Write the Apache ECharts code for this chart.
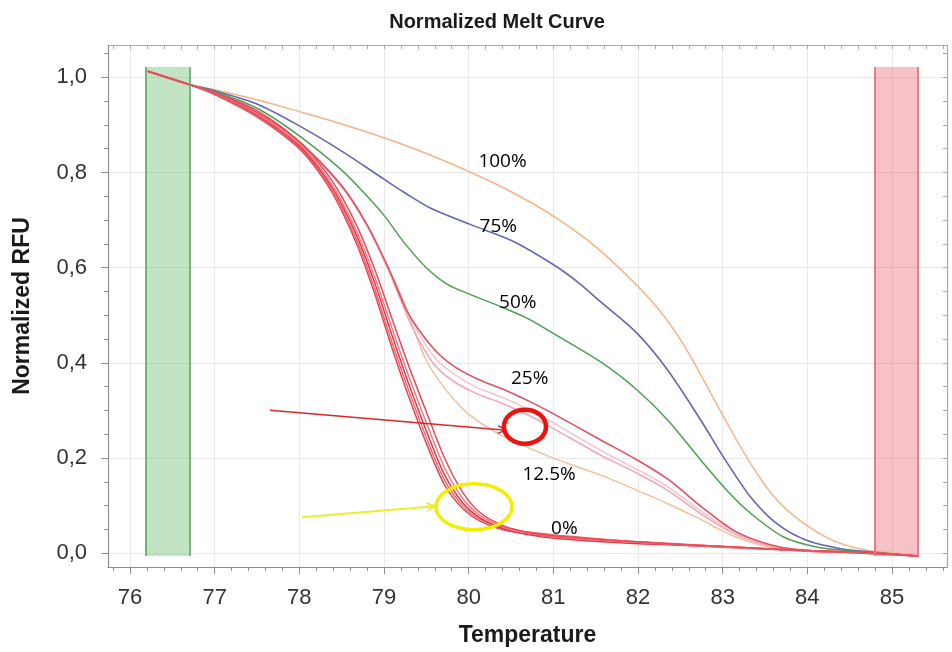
<!DOCTYPE html>
<html>
<head>
<meta charset="utf-8">
<script src="https://cdn.jsdelivr.net/npm/echarts@6/dist/echarts.min.js"></script>
<style>
  html, body { margin: 0; padding: 0; background: #ffffff; }
  #chart { width: 952px; height: 652px; }
</style>
</head>
<body>
<div id="chart"></div>
<script>
// ---- Melt curve data: [temperature (°C), normalized RFU] ----
const curve100 = [[76.21,1.013],[76.70,0.985],[77.0,0.974],[77.5,0.953],[78.0,0.928],[78.5,0.902],[79.0,0.873],[79.5,0.840],[80.03,0.800],[80.53,0.757],[81.03,0.705],[81.54,0.638],[82.04,0.553],[82.30,0.500],[82.54,0.438],[82.75,0.372],[83.01,0.287],[83.29,0.200],[83.60,0.120],[83.91,0.069],[84.30,0.027],[84.70,0.006],[85.0,0.001],[85.31,-0.006]];
const curve75 = [[76.21,1.013],[76.70,0.985],[77.0,0.972],[77.5,0.944],[78.0,0.898],[78.5,0.845],[79.0,0.786],[79.25,0.757],[79.54,0.726],[80.03,0.690],[80.53,0.655],[81.03,0.603],[81.30,0.568],[81.56,0.528],[81.99,0.462],[82.35,0.385],[82.74,0.280],[83.01,0.202],[83.33,0.118],[83.64,0.062],[83.99,0.027],[84.38,0.010],[84.80,0.002],[85.31,-0.006]];
const curve50 = [[76.21,1.013],[76.70,0.985],[77.0,0.970],[77.5,0.935],[78.0,0.877],[78.5,0.805],[78.75,0.760],[79.0,0.710],[79.25,0.650],[79.5,0.600],[79.75,0.565],[80.03,0.543],[80.38,0.518],[80.71,0.492],[80.97,0.465],[81.56,0.402],[81.99,0.343],[82.35,0.280],[82.74,0.196],[83.05,0.132],[83.33,0.084],[83.72,0.034],[84.11,0.013],[84.55,0.004],[85.31,-0.006]];
const curve25 = [[76.21,1.013],[76.70,0.985],[77.0,0.968],[77.5,0.930],[78.0,0.865],[78.5,0.772],[78.8,0.690],[79.05,0.600],[79.27,0.510],[79.45,0.460],[79.65,0.418],[79.85,0.390],[80.13,0.364],[80.44,0.342],[80.73,0.318],[80.97,0.296],[81.56,0.238],[81.99,0.196],[82.35,0.156],[82.74,0.099],[83.13,0.048],[83.52,0.020],[83.91,0.007],[84.55,0.001],[85.31,-0.006]];
const curve12a = [[76.21,1.013],[76.70,0.985],[77.0,0.967],[77.5,0.928],[78.0,0.863],[78.5,0.770],[78.8,0.688],[79.03,0.605],[79.27,0.500],[79.42,0.445],[79.60,0.395],[79.79,0.365],[80.06,0.338],[80.38,0.316],[80.73,0.288],[80.97,0.265],[81.56,0.206],[81.99,0.168],[82.35,0.132],[82.74,0.083],[83.13,0.042],[83.52,0.017],[83.95,0.005],[84.55,0.001],[85.31,-0.006]];
const curve12b = [[76.21,1.013],[76.70,0.985],[77.0,0.967],[77.5,0.929],[78.0,0.864],[78.5,0.771],[78.8,0.689],[79.04,0.603],[79.28,0.505],[79.45,0.450],[79.63,0.405],[79.84,0.375],[80.10,0.348],[80.42,0.326],[80.75,0.298],[80.98,0.276],[81.56,0.216],[81.99,0.176],[82.35,0.140],[82.74,0.089],[83.13,0.046],[83.52,0.019],[83.95,0.006],[84.55,0.001],[85.31,-0.006]];
const curve12c = [[76.21,1.013],[76.70,0.985],[77.0,0.967],[77.5,0.928],[78.0,0.864],[78.5,0.773],[78.8,0.690],[79.0,0.615],[79.17,0.555],[79.35,0.470],[79.50,0.405],[79.66,0.360],[79.83,0.322],[80.03,0.288],[80.38,0.248],[80.97,0.202],[81.56,0.164],[81.99,0.132],[82.35,0.104],[82.74,0.071],[83.13,0.036],[83.55,0.013],[84.05,0.004],[84.65,0.001],[85.31,-0.006]];
const curve0a = [[76.21,1.013],[76.70,0.985],[77.0,0.964],[77.5,0.917],[78.0,0.850],[78.3,0.783],[78.5,0.720],[78.7,0.640],[78.9,0.540],[79.1,0.428],[79.3,0.325],[79.52,0.222],[79.72,0.142],[79.93,0.094],[80.13,0.068],[80.43,0.048],[80.73,0.040],[81.04,0.034],[81.79,0.025],[82.55,0.018],[83.35,0.011],[84.05,0.005],[84.75,0.001],[85.31,-0.006]];
const curve0b = [[76.21,1.013],[76.70,0.985],[77.0,0.965],[77.5,0.919],[78.0,0.853],[78.3,0.787],[78.5,0.726],[78.7,0.648],[78.9,0.550],[79.1,0.440],[79.3,0.338],[79.52,0.234],[79.72,0.152],[79.93,0.100],[80.13,0.072],[80.43,0.052],[80.73,0.044],[81.04,0.038],[81.79,0.027],[82.55,0.019],[83.35,0.011],[84.05,0.005],[84.75,0.001],[85.31,-0.006]];
const curve0c = [[76.21,1.013],[76.70,0.985],[77.0,0.966],[77.5,0.921],[78.0,0.856],[78.3,0.792],[78.5,0.733],[78.7,0.658],[78.9,0.563],[79.1,0.455],[79.3,0.352],[79.52,0.248],[79.72,0.163],[79.93,0.106],[80.13,0.075],[80.43,0.050],[80.73,0.038],[81.04,0.031],[81.79,0.022],[82.55,0.016],[83.35,0.010],[84.05,0.004],[84.75,0.001],[85.31,-0.006]];
const curve0d = [[76.21,1.013],[76.70,0.985],[77.0,0.967],[77.5,0.923],[78.0,0.860],[78.3,0.797],[78.5,0.740],[78.7,0.667],[78.9,0.575],[79.1,0.470],[79.3,0.368],[79.52,0.265],[79.72,0.178],[79.93,0.115],[80.13,0.080],[80.43,0.054],[80.73,0.042],[81.04,0.035],[81.79,0.025],[82.55,0.017],[83.35,0.010],[84.05,0.004],[84.75,0.001],[85.31,-0.006]];
const curve0e = [[76.21,1.013],[76.70,0.985],[77.0,0.968],[77.5,0.926],[78.0,0.865],[78.3,0.804],[78.5,0.750],[78.7,0.680],[78.9,0.592],[79.1,0.490],[79.3,0.390],[79.52,0.288],[79.72,0.198],[79.93,0.128],[80.13,0.086],[80.43,0.056],[80.73,0.043],[81.04,0.036],[81.79,0.026],[82.55,0.018],[83.35,0.011],[84.05,0.005],[84.75,0.001],[85.31,-0.006]];

// Temperature windows (begin / end of the melt region)
const beginWindow = [76.19, 76.70];
const endWindow = [84.80, 85.31];
const windowTop = 1.022;
const windowBottom = -0.006;

// Curve labels (text, temperature, RFU)
const labelTexts = ['100%', '75%', '50%', '25%', '12.5%', '0%'];
const labelTemps = [80.40, 80.35, 80.58, 80.72, 80.95, 81.13];
const labelRFU = [0.823, 0.686, 0.527, 0.367, 0.166, 0.051];

// Axis ticks
const xTicks = [76, 77, 78, 79, 80, 81, 82, 83, 84, 85];
const yTicks = [0, 0.2, 0.4, 0.6, 0.8, 1.0];
const yTickLabels = ['0,0', '0,2', '0,4', '0,6', '0,8', '1,0'];

// ---- Axis extents ----
const X_MIN = 75.74, X_MAX = 85.65;
const Y_MIN = -0.029, Y_MAX = 1.068;

const xMinor = [];
const xAll = [];
for (let k = Math.ceil(X_MIN / 0.2); k * 0.2 <= X_MAX; k++) {
  const t = +(k * 0.2).toFixed(2);
  xAll.push(t);
  if (Math.abs(t - Math.round(t)) > 1e-6) xMinor.push(t);
}
const yMinor = [];
const yAll = [];
for (let k = 0; k * 0.05 <= Y_MAX; k++) {
  const v = +(k * 0.05).toFixed(2);
  yAll.push(v);
  if (Math.abs(v * 5 - Math.round(v * 5)) > 1e-6) yMinor.push(v);
}

const AXIS_GREY = '#8f8f8f';
const GRID_GREY = '#e9e9e9';
const FONT = '"Liberation Sans", Arial, sans-serif';

function curveSeries(name, data, color, width, z) {
  return {
    name, type: 'line', data,
    xAxisIndex: 0, yAxisIndex: 0,
    showSymbol: false, symbol: 'none',
    smooth: 0.3,
    lineStyle: { color, width },
    z: z || 3,
    silent: true
  };
}

const bandSeries = {
  name: 'windows', type: 'line', data: [], xAxisIndex: 0, yAxisIndex: 0,
  markArea: {
    silent: true,
    data: [
      [{ coord: [beginWindow[0], windowTop], itemStyle: { color: 'rgba(76,175,80,0.34)' } }, { coord: [beginWindow[1], windowBottom] }],
      [{ coord: [endWindow[0], windowTop], itemStyle: { color: 'rgba(232,75,90,0.34)' } }, { coord: [endWindow[1], windowBottom] }]
    ]
  },
  markLine: {
    silent: true, symbol: 'none', label: { show: false },
    data: [
      [{ coord: [beginWindow[0], windowBottom], lineStyle: { color: '#55a85a', width: 1.6, type: 'solid' } }, { coord: [beginWindow[0], windowTop] }],
      [{ coord: [beginWindow[1], windowBottom], lineStyle: { color: '#55a85a', width: 1.6, type: 'solid' } }, { coord: [beginWindow[1], windowTop] }],
      [{ coord: [endWindow[0], windowBottom], lineStyle: { color: '#e9737d', width: 1.8, type: 'solid' } }, { coord: [endWindow[0], windowTop] }],
      [{ coord: [endWindow[1], windowBottom], lineStyle: { color: '#e9737d', width: 1.8, type: 'solid' } }, { coord: [endWindow[1], windowTop] }]
    ]
  },
  z: 1
};

const labelSeries = {
  name: 'labels', type: 'scatter', xAxisIndex: 0, yAxisIndex: 0,
  symbolSize: 1, itemStyle: { opacity: 0 }, silent: true, z: 10,
  data: labelTexts.map((t, i) => ({ name: t, value: [labelTemps[i], labelRFU[i]] })),
  label: {
    show: true, position: 'inside', formatter: p => p.name, opacity: 1,
    fontFamily: '"Open Sans", Lato, sans-serif', fontSize: 19, color: '#000000'
  }
};

const chart = echarts.init(document.getElementById('chart'), null, { renderer: 'canvas' });

chart.setOption({
  animation: false,
  backgroundColor: '#ffffff',
  title: {
    text: 'Normalized Melt Curve',
    left: 492, top: 7, textAlign: 'center',
    textStyle: { fontFamily: FONT, fontWeight: 'bold', fontSize: 20, color: '#1a1a1a' }
  },
  grid: { left: 108, right: 5, top: 45, bottom: 85, containLabel: false },
  xAxis: [
    {
      type: 'value', min: X_MIN, max: X_MAX, position: 'bottom',
      name: 'Temperature', nameLocation: 'middle', nameGap: 57,
      nameTextStyle: { fontFamily: FONT, fontWeight: 'bold', fontSize: 23, color: '#1a1a1a' },
      axisLine: { show: true, onZero: false, lineStyle: { color: AXIS_GREY, width: 1.2 } },
      axisTick: { show: true, customValues: xTicks, length: 7, lineStyle: { color: AXIS_GREY } },
      axisLabel: { customValues: xTicks, fontFamily: FONT, fontSize: 22, color: '#333', margin: 20 },
      splitLine: { show: true, lineStyle: { color: GRID_GREY, width: 1 } }
    },
    {
      type: 'value', min: X_MIN, max: X_MAX, position: 'bottom',
      axisLine: { show: false, onZero: false },
      axisTick: { show: true, customValues: xMinor, length: 4, lineStyle: { color: AXIS_GREY } },
      axisLabel: { show: false },
      splitLine: { show: false }
    },
    {
      type: 'value', min: X_MIN, max: X_MAX, position: 'top',
      axisLine: { show: true, onZero: false, lineStyle: { color: '#a8a8a8', width: 1.2 } },
      axisTick: { show: true, inside: true, customValues: xAll, length: 4, lineStyle: { color: '#a8a8a8' } },
      axisLabel: { show: false },
      splitLine: { show: false }
    }
  ],
  yAxis: [
    {
      type: 'value', min: Y_MIN, max: Y_MAX, position: 'left',
      name: 'Normalized RFU', nameLocation: 'middle', nameGap: 74, nameRotate: 90,
      nameTextStyle: { fontFamily: FONT, fontWeight: 'bold', fontSize: 23, color: '#1a1a1a' },
      axisLine: { show: true, onZero: false, lineStyle: { color: AXIS_GREY, width: 1.2 } },
      axisTick: { show: true, customValues: yTicks, length: 7, lineStyle: { color: AXIS_GREY } },
      axisLabel: {
        customValues: yTicks, fontFamily: FONT, fontSize: 22, color: '#333', margin: 21,
        formatter: v => yTickLabels[yTicks.findIndex(t => Math.abs(t - v) < 1e-6)]
      },
      splitLine: { show: true, lineStyle: { color: GRID_GREY, width: 1 } }
    },
    {
      type: 'value', min: Y_MIN, max: Y_MAX, position: 'left',
      axisLine: { show: false, onZero: false },
      axisTick: { show: true, customValues: yMinor, length: 4, lineStyle: { color: AXIS_GREY } },
      axisLabel: { show: false },
      splitLine: { show: false }
    },
    {
      type: 'value', min: Y_MIN, max: Y_MAX, position: 'right',
      axisLine: { show: true, onZero: false, lineStyle: { color: '#a8a8a8', width: 1.2 } },
      axisTick: { show: true, inside: true, customValues: yAll, length: 4, lineStyle: { color: '#a8a8a8' } },
      axisLabel: { show: false },
      splitLine: { show: false }
    }
  ],
  series: [
    bandSeries,
    curveSeries('100%', curve100, '#f4b48a', 1.5),
    curveSeries('75%', curve75, '#6466b2', 1.6),
    curveSeries('50%', curve50, '#4f9f52', 1.5),
    curveSeries('12.5% b', curve12c, '#f3bf9c', 1.5),
    curveSeries('12.5% a', curve12a, '#f2a8b5', 1.6),
    curveSeries('12.5% c', curve12b, '#f5c0ca', 1.4),
    curveSeries('25%', curve25, '#dc5262', 1.6),
    curveSeries('0% a', curve0a, '#e8454f', 1.5, 4),
    curveSeries('0% b', curve0b, '#ec6470', 1.4, 4),
    curveSeries('0% c', curve0c, '#e23a46', 1.5, 4),
    curveSeries('0% d', curve0d, '#ef7780', 1.4, 4),
    curveSeries('0% e', curve0e, '#e54d58', 1.5, 4),
    labelSeries
  ]
});

// ---- Hand-drawn style annotations: arrows pointing to circled regions ----
const annotations = [
  { from: [77.653, 0.3006], to: [80.441, 0.2586], center: [80.665, 0.266], rx: 21, ry: 17,
    ringColor: '#ee1111', ringWidth: 4.5, arrowColor: '#d42a2a', arrowWidth: 1.5 },
  { from: [78.031, 0.0757], to: [79.602, 0.0988], center: [80.063, 0.0978], rx: 38, ry: 23,
    ringColor: '#f2ee00', ringWidth: 3.5, arrowColor: '#eeec30', arrowWidth: 2 }
];

const px = p => chart.convertToPixel({ gridIndex: 0 }, p);
const elements = [];
annotations.forEach(a => {
  const s = px(a.from), e = px(a.to), c = px(a.center);
  const ang = Math.atan2(e[1] - s[1], e[0] - s[0]);
  const L = 9, spread = 0.45;
  const h1 = [e[0] - L * Math.cos(ang - spread), e[1] - L * Math.sin(ang - spread)];
  const h2 = [e[0] - L * Math.cos(ang + spread), e[1] - L * Math.sin(ang + spread)];
  elements.push({
    type: 'line', silent: true, z: 50,
    shape: { x1: s[0], y1: s[1], x2: e[0], y2: e[1] },
    style: { stroke: a.arrowColor, lineWidth: a.arrowWidth }
  });
  elements.push({
    type: 'polyline', silent: true, z: 50,
    shape: { points: [h1, e, h2] },
    style: { stroke: a.arrowColor, lineWidth: a.arrowWidth, fill: null }
  });
  elements.push({
    type: 'ellipse', silent: true, z: 50,
    shape: { cx: c[0], cy: c[1], rx: a.rx, ry: a.ry },
    style: { stroke: a.ringColor, lineWidth: a.ringWidth, fill: null }
  });
});
chart.setOption({ graphic: { elements } });
</script>
</body>
</html>
